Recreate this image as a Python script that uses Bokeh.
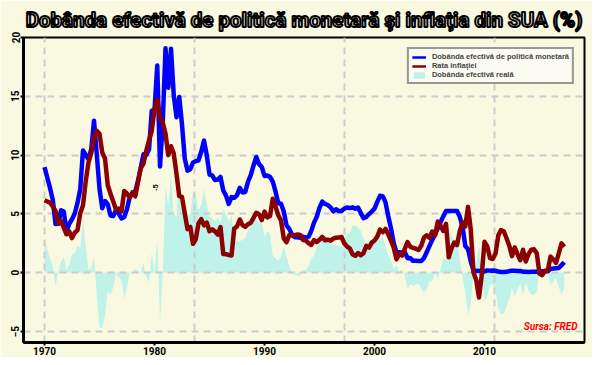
import numpy as np
from math import pi
from bokeh.plotting import figure
from bokeh.models import Label, Legend, LegendItem, FixedTicker
from bokeh.embed import file_html
from bokeh.resources import INLINE

# ---------------- data (quarterly readings, Jan/Apr/Jul/Oct) ----------------
start_year = 1970
fed_funds = [
    8.98, 8.10, 7.21, 6.20,   4.14, 4.16, 5.31, 5.20,   3.50, 4.17, 4.55, 5.04,
    5.94, 7.12, 10.40, 10.01, 9.65, 10.51, 12.92, 10.06, 7.13, 5.49, 6.10, 5.82,
    4.87, 4.82, 5.31, 5.03,   4.61, 4.73, 5.42, 6.47,   6.70, 6.90, 7.81, 8.96,
    10.07, 10.01, 10.47, 13.77,
    13.82, 17.61, 9.03, 12.81, 19.08, 15.72, 19.04, 15.08, 13.22, 14.94, 12.59, 9.71,
    8.68, 8.80, 9.37, 9.48,   9.56, 10.29, 11.23, 9.99,  8.35, 8.27, 7.88, 7.92,
    8.14, 6.99, 6.56, 5.85,   6.43, 6.38, 6.58, 7.22,   6.83, 6.87, 7.75, 8.30,
    9.12, 9.84, 9.24, 8.99,
    8.23, 8.26, 8.15, 7.74,   6.91, 5.91, 5.86, 5.21,   4.03, 3.73, 3.25, 3.02,
    3.02, 2.96, 3.06, 2.99,   3.05, 3.56, 4.26, 4.76,   5.53, 6.05, 5.85, 5.76,
    5.56, 5.22, 5.40, 5.24,   5.25, 5.45, 5.54, 5.50,   5.56, 5.45, 5.54, 5.07,
    4.63, 4.74, 4.99, 5.20,
    5.45, 6.02, 6.54, 6.51,   5.98, 4.80, 3.77, 2.49,   1.73, 1.75, 1.73, 1.75,
    1.24, 1.26, 1.01, 1.01,   1.00, 1.00, 1.26, 1.76,   2.28, 2.79, 3.26, 3.78,
    4.29, 4.79, 5.24, 5.25,   5.25, 5.25, 5.26, 4.76,   3.94, 2.28, 2.01, 0.97,
    0.15, 0.15, 0.16, 0.12,
    0.11, 0.20, 0.18, 0.19,   0.17, 0.10, 0.07, 0.07,   0.08, 0.14, 0.16, 0.16,
    0.14, 0.15, 0.09, 0.09,   0.07, 0.09, 0.09, 0.09,   0.11, 0.12, 0.13, 0.12,
    0.34, 0.37, 0.39, 0.40,   0.65, 0.90,
]
inflation = [
    6.16, 6.06, 5.96, 5.65,   5.26, 4.16, 4.40, 3.84,   3.27, 3.50, 2.95, 3.40,
    3.62, 5.06, 5.74, 7.80,   9.39, 10.19, 11.51, 12.06, 11.81, 10.21, 9.72, 7.44,
    6.72, 6.05, 5.35, 5.46,   5.22, 6.95, 6.72, 6.39,   6.84, 6.50, 7.70, 8.89,
    9.28, 10.36, 11.26, 12.07,
    13.91, 14.73, 13.13, 12.77, 11.83, 10.00, 10.76, 10.14, 8.39, 6.51, 6.44, 5.04,
    3.71, 3.90, 2.46, 2.85,   4.19, 4.55, 4.03, 4.26,   3.53, 3.69, 3.52, 3.24,
    3.89, 1.59, 1.58, 1.51,   1.46, 3.78, 3.93, 4.53,   4.05, 3.90, 4.13, 4.25,
    4.67, 5.10, 4.98, 4.48,
    5.20, 4.71, 4.82, 6.29,   5.65, 4.89, 4.45, 2.92,   2.60, 3.18, 3.16, 3.20,
    3.26, 3.22, 2.78, 2.75,   2.52, 2.36, 2.77, 2.61,   2.80, 3.05, 2.76, 2.81,
    2.73, 2.90, 2.98, 2.99,   3.04, 2.50, 2.23, 2.08,   1.57, 1.44, 1.68, 1.49,
    1.67, 2.28, 2.14, 2.56,
    2.74, 3.07, 3.66, 3.45,   3.73, 3.27, 2.72, 2.13,   1.14, 1.64, 1.46, 2.03,
    2.60, 2.22, 2.11, 2.04,   1.93, 2.29, 2.99, 3.19,   2.97, 3.51, 3.17, 4.35,
    3.99, 3.55, 4.15, 1.31,   2.08, 2.57, 2.36, 3.54,   4.28, 3.94, 5.60, 3.66,
    0.03, -0.64, -2.10, -0.18,
    2.63, 2.24, 1.24, 1.17,   1.63, 3.16, 3.63, 3.53,   2.93, 2.30, 1.41, 2.16,
    1.59, 1.06, 1.96, 0.96,   1.58, 1.95, 1.99, 1.66,  -0.09, -0.20, 0.17, 0.17,
    1.37, 1.13, 0.83, 1.64,   2.50, 2.20,
]
real_rate = [
    2.82, 2.04, 1.25, 0.55,  -1.12, 0.00, 0.91, 1.36,   0.23, 0.67, 1.60, 1.64,
    2.32, 2.06, 4.66, 2.21,   0.26, 0.32, 1.41, -2.00, -4.68, -4.72, -3.62, -1.62,
   -1.85, -1.23, -0.04, -0.43, -0.61, -2.22, -1.30, 0.08, -0.14, 0.40, 0.11, 0.07,
    0.79, -0.35, -0.79, 1.70,
   -0.09, 2.88, -4.10, 0.04,  7.25, 5.72, 8.28, 4.94,   4.83, 8.43, 6.15, 4.67,
    4.97, 4.90, 6.91, 6.63,   5.37, 5.74, 7.20, 5.73,   4.82, 4.58, 4.36, 4.68,
    4.25, 5.40, 4.98, 4.34,   4.97, 2.60, 2.65, 2.69,   2.78, 2.97, 3.62, 4.05,
    4.45, 4.74, 4.26, 4.51,
    3.03, 3.55, 3.33, 1.45,   1.26, 1.02, 1.41, 2.29,   1.43, 0.55, 0.09, -0.18,
   -0.24, -0.26, 0.28, 0.24,  0.53, 1.20, 1.49, 2.15,   2.73, 3.00, 3.09, 2.95,
    2.83, 2.32, 2.42, 2.25,   2.21, 2.95, 3.31, 3.42,   3.99, 4.01, 3.86, 3.58,
    2.96, 2.46, 2.85, 2.64,
    2.71, 2.95, 2.88, 3.06,   2.25, 1.53, 1.05, 0.36,   0.59, 0.11, 0.27, -0.28,
   -1.36, -0.96, -1.10, -1.03, -0.93, -1.29, -1.73, -1.43, -0.69, -0.72, 0.09, -0.57,
    0.30, 1.24, 1.09, 3.94,   3.17, 2.68, 2.90, 1.22,  -0.34, -1.66, -3.59, -2.69,
    0.12, 0.79, 2.26, 0.30,
   -2.52, -2.04, -1.06, -0.98, -1.46, -3.06, -3.56, -3.46, -2.85, -2.16, -1.25, -2.00,
   -1.45, -0.91, -1.87, -0.87, -1.51, -1.86, -1.90, -1.57, 0.20, 0.32, -0.04, -0.05,
   -1.03, -0.76, -0.44, -1.24, -1.85, -1.30,
]
years = [start_year + 0.25 * i for i in range(len(fed_funds))]

x_ticks = [1970, 1980, 1990, 2000, 2010]
y_ticks = [-5, 0, 5, 10, 15, 20]
vgrid_years = [1970, 1983.65, 1997.3, 2010.95]
hgrid_vals = [-5, 0, 5, 10, 15]

title_text = "Dobânda efectivă de politică monetară şi inflaţia din SUA (%)"
legend_labels = ["Dobânda efectivă de politică monetară", "Rata inflaţiei", "Dobânda efectivă reală"]
source_text = "Sursa: FRED"

BG = "#F9F9E1"
BLUE = "#0000FF"
RED = "#8B0000"
CYAN = "#BFF3EA"
NARROW = "Roboto, 'Liberation Sans', sans-serif"

p = figure(width=592, height=357, output_backend="svg", toolbar_location=None,
           x_range=(1968.09, 2019.09), y_range=(-5.93, 20), title=title_text,
           min_border=0, min_border_left=23, min_border_right=8,
           min_border_top=37, min_border_bottom=14)
p.background_fill_color = BG
p.border_fill_color = BG
p.outline_line_color = "black"
p.outline_line_width = 2

p.title.align = "center"
p.title.text_font = NARROW
p.title.text_font_size = "20.5px"
p.title.text_font_style = "bold"
p.title.text_color = "white"
p.title.text_outline_color = "black"
p.title.standoff = 11
p.title.offset = -6

# axes
for ax in (p.xaxis, p.yaxis):
    ax.axis_line_width = 3
    ax.axis_line_color = "black"
    ax.major_tick_in = 0
    ax.major_tick_out = 3
    ax.major_tick_line_width = 2
    ax.minor_tick_line_color = None
    ax.major_label_text_font = NARROW
    ax.major_label_text_font_style = "bold"
    ax.major_label_text_font_size = "10px"
    ax.major_label_text_color = "black"
    ax.major_label_standoff = 1
p.xaxis.ticker = FixedTicker(ticks=x_ticks)
p.yaxis.ticker = FixedTicker(ticks=y_ticks)
p.yaxis.major_label_orientation = "vertical"

# grid
p.xgrid.ticker = FixedTicker(ticks=vgrid_years)
p.ygrid.ticker = FixedTicker(ticks=hgrid_vals)
for g in (p.xgrid, p.ygrid):
    g.grid_line_color = "#CCCCCC"
    g.grid_line_width = 2
    g.grid_line_dash = "7 5"

# series
area = p.varea(x=years, y1=0, y2=real_rate, fill_color=CYAN, fill_alpha=1, level="image")
p.line(years, fed_funds, line_width=4.5, line_color=BLUE, line_join="round")
p.line(years, inflation, line_width=4.5, line_color=RED, line_join="round")

# legend-only renderers (no visible data)
lb = p.line([np.nan, np.nan], [np.nan, np.nan], line_width=2.5, line_color=BLUE)
lr = p.line([np.nan, np.nan], [np.nan, np.nan], line_width=2.5, line_color=RED)
legend = Legend(items=[LegendItem(label=legend_labels[0], renderers=[lb]),
                       LegendItem(label=legend_labels[1], renderers=[lr]),
                       LegendItem(label=legend_labels[2], renderers=[area])],
                location="top_right", margin=10, padding=3, spacing=0,
                label_text_font="'Liberation Sans', Arial, sans-serif",
                label_text_font_size="7.5px", label_text_font_style="bold",
                glyph_width=14, glyph_height=8, label_height=8, label_standoff=6,
                border_line_color="#333333", border_line_width=2,
                background_fill_color="#FCFCF2", background_fill_alpha=1)
p.add_layout(legend)

# source
p.add_layout(Label(x=2018.45, y=-4.53, text=source_text, text_align="right",
                   text_baseline="alphabetic", text_font=NARROW, text_font_size="10px",
                   text_font_style="bold italic", text_color="#FF0000"))
# stray label
p.add_layout(Label(x=1980.1, y=7.24, text="-5", angle=pi / 2, text_align="center",
                   text_baseline="middle", text_font_size="7px", text_font_style="bold",
                   text_color="black"))

open("out.html", "w").write(file_html(p, INLINE))
